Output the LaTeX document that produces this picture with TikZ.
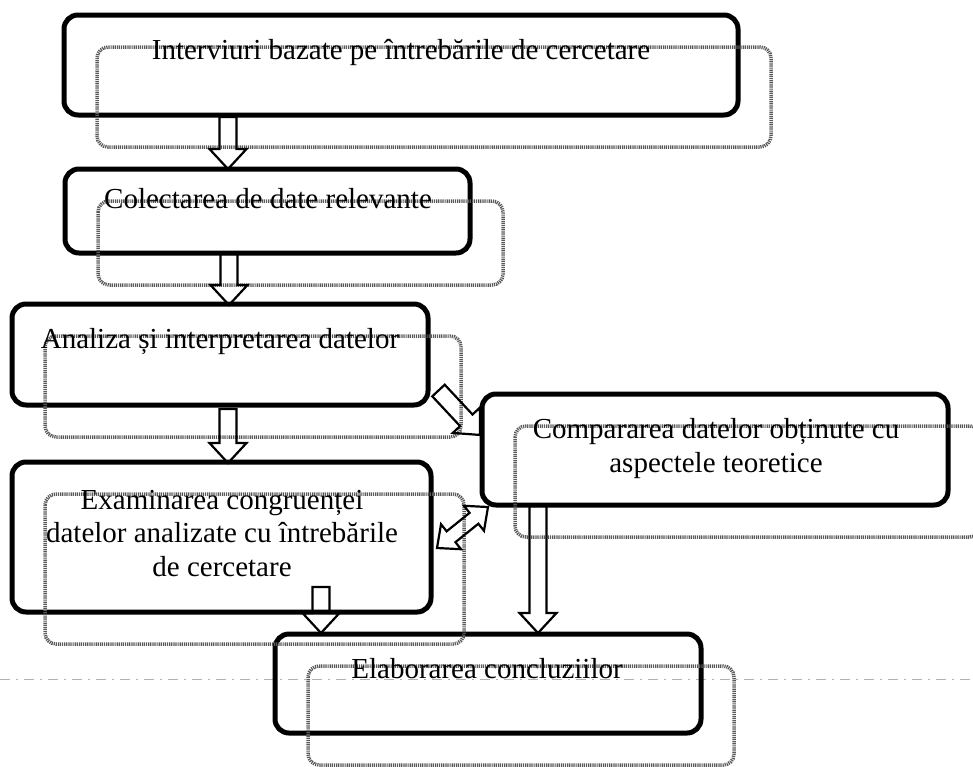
\documentclass[tikz,border=0pt]{standalone}
\usepackage{fontspec}
\setmainfont{Liberation Serif}
\usetikzlibrary{calc}

\tikzset{
  box/.style={draw=black, line width=5pt, rounded corners=14pt, outer sep=0pt, inner sep=0pt},
  shade line/.style={draw=black!65, line width=3.5pt, dash pattern=on 1.2pt off 0.9pt, rounded corners=11pt},
  label text/.style={font=\fontsize{29}{33.5}\selectfont, align=center, anchor=base, inner sep=0pt},
  block line/.style={draw=black, line width=2.2pt, line join=miter},
  page rule/.style={draw=black!30, line width=0.8pt, dash pattern=on 10pt off 6pt on 2pt off 6pt},
}

% hollow block arrow from #1 (tail centre) to #2 (tip)
\newcommand\blockarrow[2]{%
  \draw[block line] let \p1=(#1), \p2=(#2),
      \n1={atan2(\y2-\y1,\x2-\x1)}, \n2={veclen(\x2-\x1,\y2-\y1)} in
    [shift={(\p1)}, rotate=\n1]
    (0pt,-8.5pt) -- ({\n2*1pt-20pt},-8.5pt) -- ({\n2*1pt-20pt},-18.5pt) -- ({\n2*1pt},0pt)
    -- ({\n2*1pt-20pt},18.5pt) -- ({\n2*1pt-20pt},8.5pt) -- (0pt,8.5pt) -- cycle;}

% hollow block arrow with a head at both ends
\newcommand\blockarrowboth[2]{%
  \draw[block line] let \p1=(#1), \p2=(#2),
      \n1={atan2(\y2-\y1,\x2-\x1)}, \n2={veclen(\x2-\x1,\y2-\y1)} in
    [shift={(\p1)}, rotate=\n1]
    (18pt,-7pt) -- ({\n2*1pt-18pt},-7pt) -- ({\n2*1pt-18pt},-16pt) -- ({\n2*1pt},0pt)
    -- ({\n2*1pt-18pt},16pt) -- ({\n2*1pt-18pt},7pt) -- (18pt,7pt) -- (18pt,16pt)
    -- (0pt,0pt) -- (18pt,-16pt) -- cycle;}

\begin{document}
\begin{tikzpicture}[x=1pt, y=-1pt]
\useasboundingbox (0,0) rectangle (973,766);
\clip (0,0) rectangle (973,766);

% faint rule across the page
\draw[page rule] (0,679) -- (973,679);

% boxes
\node[box, minimum width=674pt, minimum height=100pt] (b1) at (401,65) {};
\node[box, minimum width=405pt, minimum height=84pt] (b2) at (267.5,211) {};
\node[box, minimum width=416pt, minimum height=101pt] (b3) at (220,354.5) {};
\node[box, minimum width=419pt, minimum height=150pt] (b4) at (221.5,537) {};
\node[box, minimum width=466pt, minimum height=111pt] (b5) at (715,449.5) {};
\node[box, minimum width=426pt, minimum height=99pt] (b6) at (488,683.5) {};

% dotted offset shadows
\foreach \b in {b1,b2,b3,b4,b5,b6}{
  \draw[shade line] ([shift={(33,32)}]\b.north west) rectangle ([shift={(33,32)}]\b.south east);
}

% arrow end points
\coordinate (a1s) at ($(b1.south)+(-173,2)$);
\coordinate (a1e) at ($(b2.north)+(-39.5,0)$);
\coordinate (a2s) at ($(b2.south)+(-38.5,1)$);
\coordinate (a2e) at ($(b3.north)+(9,1)$);
\coordinate (a3s) at ($(b3.south)+(8,4)$);
\coordinate (a3e) at ($(b4.north)+(6.5,1)$);
\coordinate (a4s) at ($(b4.south)+(99.5,-25)$);
\coordinate (a4e) at ($(b6.north)+(-167,-1)$);
\coordinate (a5s) at ($(b5.south)+(-177,1)$);
\coordinate (a5e) at ($(b6.north)+(50,-1)$);
\coordinate (a6s) at ($(b3.south east)+(10.5,-14.5)$);
\coordinate (a6e) at ($(b5.west)+(-2,-14.5)$);
\coordinate (a7s) at ($(b4.east)+(6,11)$);
\coordinate (a7e) at ($(b5.south west)+(6,2)$);

\blockarrow{a1s}{a1e}
\blockarrow{a2s}{a2e}
\blockarrow{a3s}{a3e}
\blockarrow{a4s}{a4e}
\blockarrow{a5s}{a5e}
\blockarrow{a6s}{a6e}
\blockarrowboth{a7s}{a7e}

% texts (multi-line nodes sit on the baseline of their last line)
\node[label text] (t1) at (401,59) {Interviuri bazate pe întrebările de cercetare};
\node[label text] (t2) at (268,208) {Colectarea de date relevante};
\node[label text] (t3) at (220,348) {Analiza și interpretarea datelor};
\node[label text] (t4) at (222,576) {Examinarea congruenței\\datelor analizate cu întrebările\\de cercetare};
\node[label text] (t5) at (716,472) {Compararea datelor obținute cu\\aspectele teoretice};
\node[label text] (t6) at (487,678) {Elaborarea concluziilor};
\end{tikzpicture}
\end{document}
